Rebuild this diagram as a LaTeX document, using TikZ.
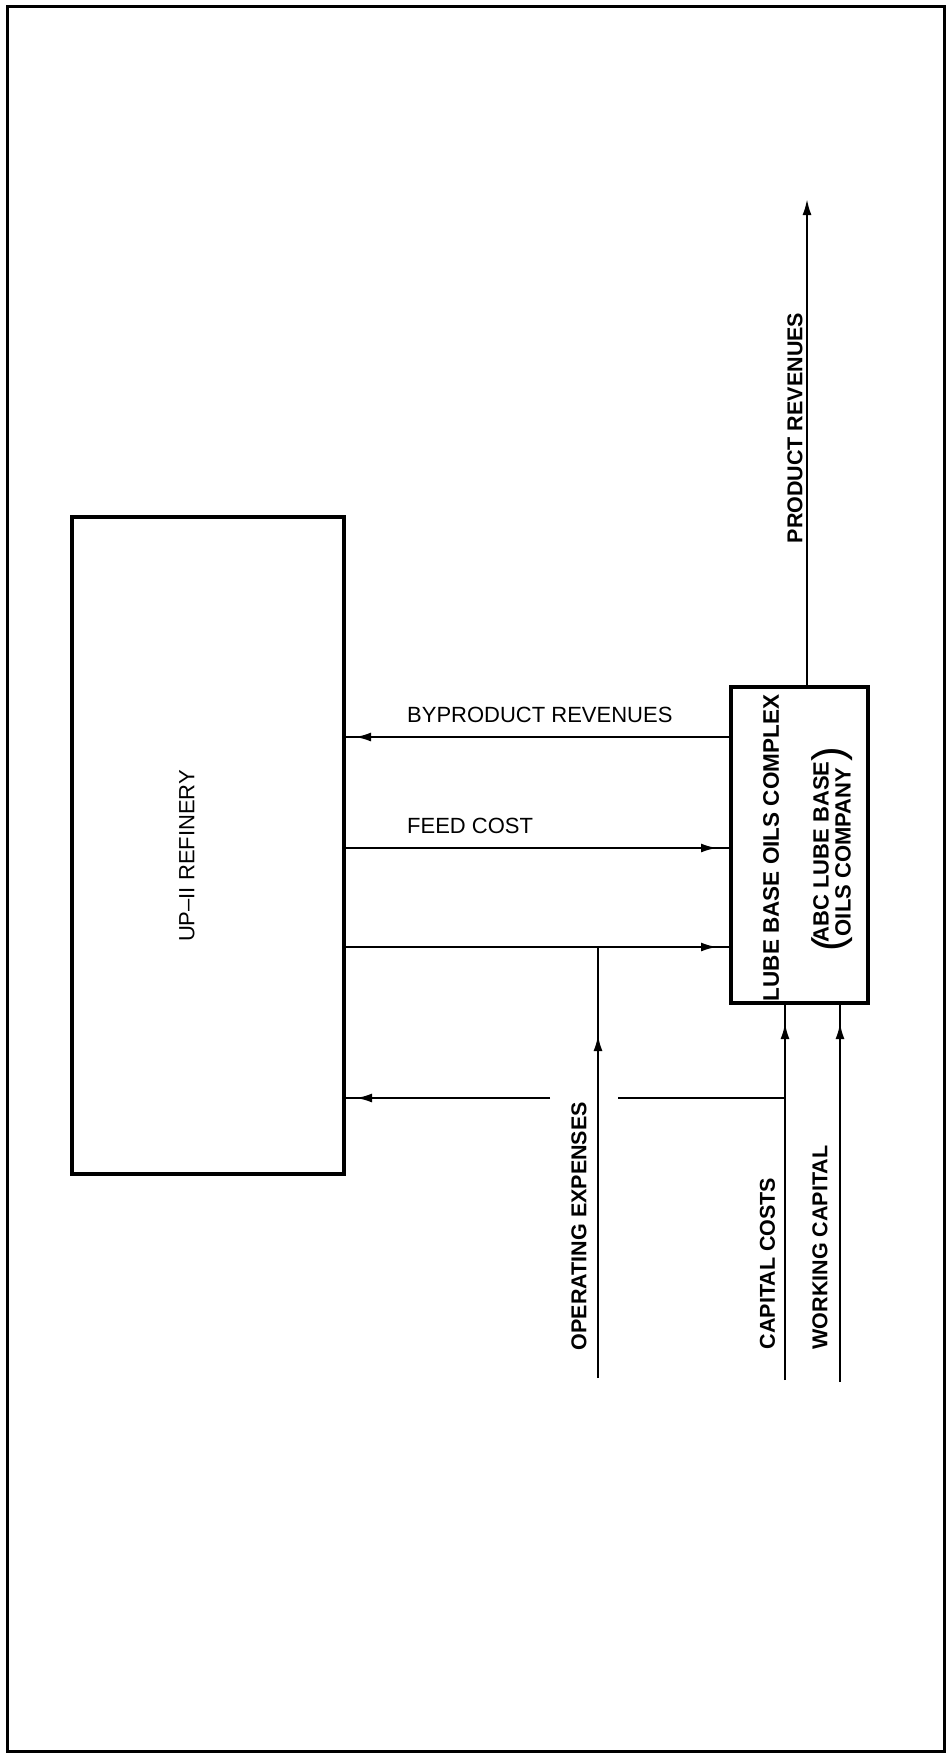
\documentclass[tikz,border=0pt]{standalone}
\usepackage{fontspec}
\setmainfont{Liberation Sans}
\usetikzlibrary{arrows.meta,decorations.markings}
\begin{document}
\begin{tikzpicture}[x=1pt,y=-1pt,
  boxstyle/.style={draw, line width=4.5pt, inner sep=0pt, outer sep=0pt},
  flow/.style={line width=2.2pt},
  tipat/.style={postaction={decorate}, decoration={markings, mark=at position #1 with {\arrow{Latex[length=16pt,width=9pt]}}}},
  lbl/.style={inner sep=0pt, font=\fontsize{22}{22}\selectfont},
  blbl/.style={inner sep=0pt, font=\fontsize{21.5}{22}\selectfont\bfseries},
  vlbl/.style={blbl, rotate=90}]
\useasboundingbox (0,0) rectangle (947,1754);
\draw[line width=3pt] (7,6) rectangle (944,1751);

% boxes
\node[boxstyle, minimum width=272pt, minimum height=657pt] (ref) at (208,845.5) {};
\node[boxstyle, minimum width=137pt, minimum height=316pt] (lube) at (799.5,845) {};

% helper coordinates
\coordinate (yby) at (0,737);
\coordinate (yfeed) at (0,848);
\coordinate (yop) at (0,947);
\coordinate (ycap) at (0,1098);
\coordinate (prtop) at (807,199);
\coordinate (opbot) at (598,1378);
\coordinate (capbot) at (785,1380);
\coordinate (wcbot) at (840,1382);
\coordinate (gapL) at (550,1098);
\coordinate (gapR) at (618,1098);

% connectors
\draw[flow, -{Latex[length=16pt,width=9pt]}] (lube.north -| prtop) -- (prtop);
\draw[flow, tipat=-11pt] (lube.west |- yby) -- (ref.east |- yby);
\draw[flow, tipat=-14pt] (ref.east |- yfeed) -- (lube.west |- yfeed);
\draw[flow, tipat=-14pt] (ref.east |- yop) -- (lube.west |- yop);
\draw[flow, tipat=343pt] (opbot) -- (opbot |- yop);
\draw[flow, tipat=-20pt] (capbot) -- (capbot |- lube.south);
\draw[flow, tipat=-20pt] (wcbot) -- (wcbot |- lube.south);
\draw[flow] (capbot |- ycap) -- (gapR);
\draw[flow, tipat=-12pt] (gapL) -- (ref.east |- ycap);

% labels
\node[lbl, anchor=base west] (tby) at (407,722) {BYPRODUCT REVENUES};
\node[lbl, anchor=base west] (tfeed) at (407,833) {FEED COST};
\node[lbl, rotate=90] (tref) at (187,856) {UP–II REFINERY};
\node[vlbl] (tpr) at (795,428) {PRODUCT REVENUES};
\node[vlbl] (top) at (579,1226) {OPERATING EXPENSES};
\node[vlbl] (tcap) at (767.5,1263.5) {CAPITAL COSTS};
\node[vlbl] (twc) at (820,1247.5) {WORKING CAPITAL};
\node[vlbl, font=\fontsize{22.5}{22}\selectfont\bfseries] (tlube) at (771,848) {LUBE BASE OILS COMPLEX};
\node[vlbl, align=center, font=\fontsize{22}{22}\selectfont\bfseries] (tabc) at (832,852) {ABC LUBE BASE\\OILS COMPANY};
\node[rotate=90, inner sep=0pt, anchor=east, font=\fontsize{44}{44}\selectfont] (lp) at ([yshift=6pt]tabc.west) {(};
\node[rotate=90, inner sep=0pt, anchor=west, font=\fontsize{44}{44}\selectfont] (rp) at (tabc.east) {)};
\end{tikzpicture}
\end{document}
